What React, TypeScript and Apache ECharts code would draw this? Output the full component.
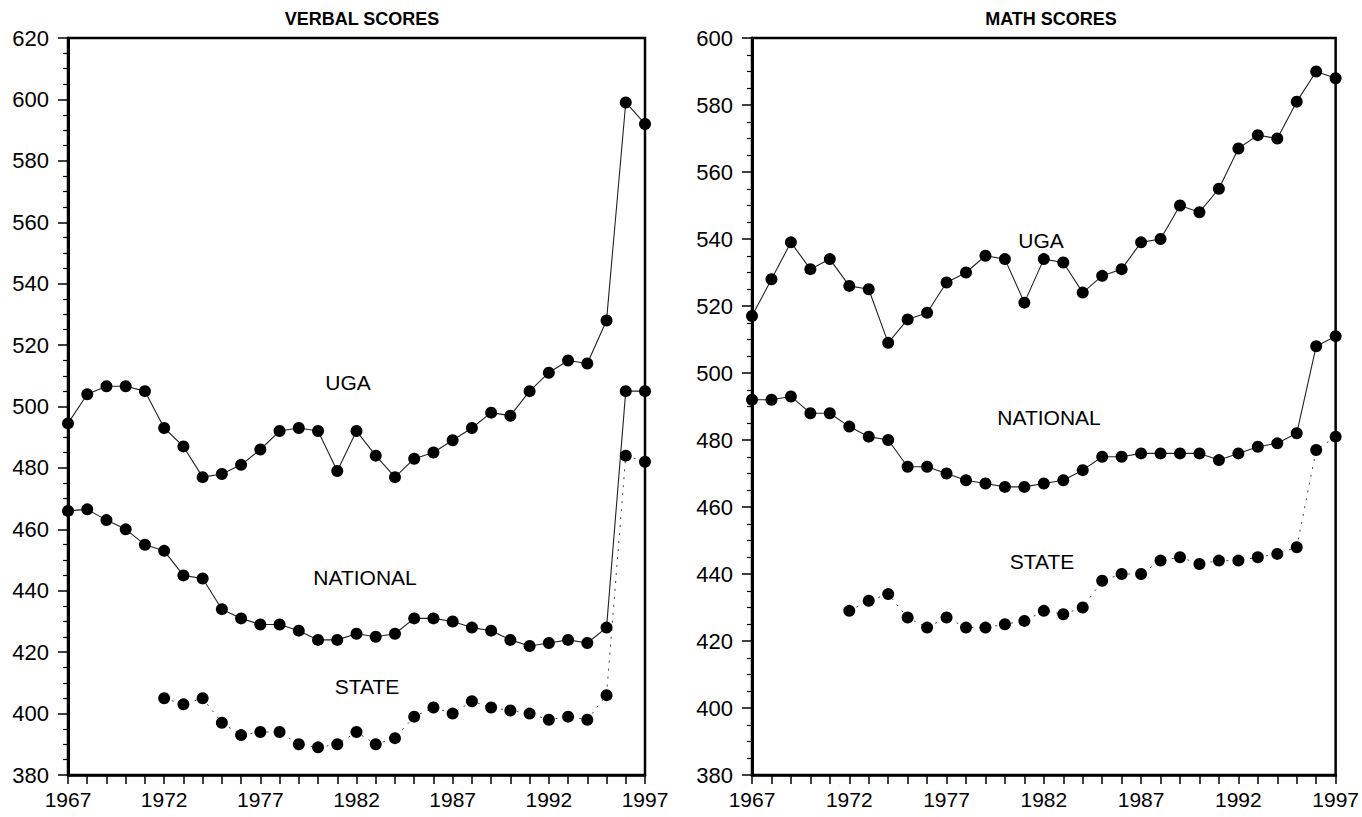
import React, { useEffect, useRef } from "react";
import * as echarts from "echarts";

const years = Array.from({ length: 31 }, (_, i) => String(1967 + i));

const verbalUGA = [494.5, 504, 506.6, 506.6, 505, 493, 487, 477, 478, 481, 486, 492, 493, 492, 479, 492, 484, 477, 483, 485, 489, 493, 498, 497, 505, 511, 515, 514, 528, 599, 592];
const verbalNational = [466, 466.5, 463, 460, 455, 453, 445, 444, 434, 431, 429, 429, 427, 424, 424, 426, 425, 426, 431, 431, 430, 428, 427, 424, 422, 423, 424, 423, 428, 505, 505];
const verbalState = [null, null, null, null, null, 405, 403, 405, 397, 393, 394, 394, 390, 389, 390, 394, 390, 392, 399, 402, 400, 404, 402, 401, 400, 398, 399, 398, 406, 484, 482];

const mathUGA = [517, 528, 539, 531, 534, 526, 525, 509, 516, 518, 527, 530, 535, 534, 521, 534, 533, 524, 529, 531, 539, 540, 550, 548, 555, 567, 571, 570, 581, 590, 588];
const mathNational = [492, 492, 493, 488, 488, 484, 481, 480, 472, 472, 470, 468, 467, 466, 466, 467, 468, 471, 475, 475, 476, 476, 476, 476, 474, 476, 478, 479, 482, 508, 511];
const mathState = [null, null, null, null, null, 429, 432, 434, 427, 424, 427, 424, 424, 425, 426, 429, 428, 430, 438, 440, 440, 444, 445, 443, 444, 444, 445, 446, 448, 477, 481];

const panelTitles = ["VERBAL SCORES", "MATH SCORES"];
const seriesNames = ["UGA", "NATIONAL", "STATE"];

const FONT = "'Liberation Sans', Arial, Helvetica, sans-serif";

export default function App() {
  const ref = useRef<HTMLDivElement>(null);
  useEffect(() => {
    const chart = echarts.init(ref.current!, null, { renderer: "svg" });

    const xAxisBase = (gi: number) => ({
      type: "category",
      gridIndex: gi,
      data: years,
      boundaryGap: false,
      axisLine: { show: true, lineStyle: { color: "#000", width: 2.5 } },
      axisTick: { show: true, interval: 0, length: 9, inside: false, lineStyle: { color: "#000", width: 1.5 } },
      axisLabel: { interval: 4, color: "#000", fontSize: 21, fontFamily: FONT, margin: 14 },
      splitLine: { show: false },
    });
    const yAxisBase = (gi: number, max: number) => ({
      type: "value",
      gridIndex: gi,
      min: 380,
      max,
      interval: 20,
      axisLine: { show: true, lineStyle: { color: "#000", width: 3 } },
      axisTick: { show: true, length: 10, lineStyle: { color: "#000", width: 1.5 } },
      minorTick: { show: true, splitNumber: 4, length: 5, lineStyle: { color: "#000", width: 1.2 } },
      axisLabel: { color: "#000", fontSize: 22, fontFamily: FONT, margin: 19 },
      splitLine: { show: false },
    });

    const mk = (name: string, data: any[], gi: number, dotted: boolean) => ({
      name,
      type: "line",
      xAxisIndex: gi,
      yAxisIndex: gi,
      data,
      connectNulls: false,
      symbol: "circle",
      symbolSize: 12,
      itemStyle: { color: "#000" },
      lineStyle: dotted
        ? { color: "#444", width: 1, type: [2, 6] }
        : { color: "#222", width: 1.1 },
      emphasis: { disabled: true },
      z: 3,
    });

    const labelStyle = { fill: "#000", fontSize: 21, fontFamily: FONT };

    chart.setOption({
      animation: false,
      backgroundColor: "#fff",
      title: [
        { text: panelTitles[0], left: 357, top: 5, textAlign: "center", textStyle: { fontSize: 18, fontWeight: "bold", fontFamily: FONT, color: "#000" } },
        { text: panelTitles[1], left: 1046, top: 5, textAlign: "center", textStyle: { fontSize: 18, fontWeight: "bold", fontFamily: FONT, color: "#000" } },
      ],
      grid: [
        { left: 68, right: 1362 - 645, top: 38, bottom: 42, show: true, borderColor: "#000", borderWidth: 2.5, backgroundColor: "transparent" },
        { left: 752, right: 1362 - 1338, top: 38, bottom: 42, show: true, borderColor: "#000", borderWidth: 2.5, backgroundColor: "transparent" },
      ],
      xAxis: [xAxisBase(0), xAxisBase(1)],
      yAxis: [yAxisBase(0, 620), yAxisBase(1, 600)],
      series: [
        mk(seriesNames[0], verbalUGA, 0, false),
        mk(seriesNames[1], verbalNational, 0, false),
        mk(seriesNames[2], verbalState, 0, true),
        mk(seriesNames[0], mathUGA, 1, false),
        mk(seriesNames[1], mathNational, 1, false),
        mk(seriesNames[2], mathState, 1, true),
      ],
      graphic: [
        { type: "text", x: 348, y: 382, style: { ...labelStyle, text: seriesNames[0], align: "center", verticalAlign: "middle" } },
        { type: "text", x: 365, y: 577, style: { ...labelStyle, text: seriesNames[1], align: "center", verticalAlign: "middle" } },
        { type: "text", x: 367, y: 686, style: { ...labelStyle, text: seriesNames[2], align: "center", verticalAlign: "middle" } },
        { type: "text", x: 1041, y: 240, style: { ...labelStyle, text: seriesNames[0], align: "center", verticalAlign: "middle" } },
        { type: "text", x: 1049, y: 417, style: { ...labelStyle, text: seriesNames[1], align: "center", verticalAlign: "middle" } },
        { type: "text", x: 1042, y: 561, style: { ...labelStyle, text: seriesNames[2], align: "center", verticalAlign: "middle" } },
      ],
    });
    return () => chart.dispose();
  }, []);

  return (
    <div
      ref={ref}
      style={{ position: "fixed", left: 0, top: 0, width: 1362, height: 817, background: "#fff" }}
    />
  );
}
